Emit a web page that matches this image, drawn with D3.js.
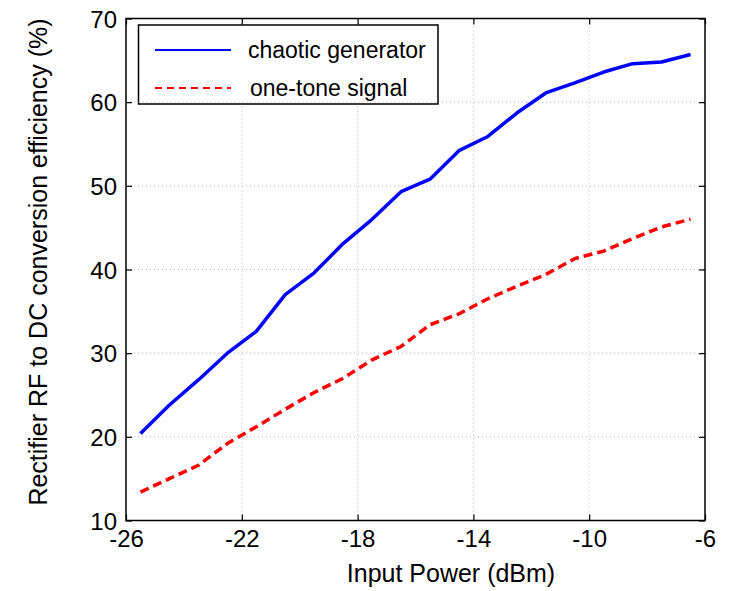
<!DOCTYPE html>
<html>
<head>
<meta charset="utf-8">
<script src="https://cdn.jsdelivr.net/npm/d3@7"></script>
<style>
  body { margin: 0; background: #fff; }
  text { font-family: "Liberation Sans", Arial, sans-serif; fill: #000; }
</style>
</head>
<body>
<svg id="chart" width="730" height="591"></svg>
<script>
// data
var inputPower = [-25.5, -24.5, -23.5, -22.5, -21.5, -20.5, -19.5, -18.5, -17.5, -16.5,
                  -15.5, -14.5, -13.5, -12.5, -11.5, -10.5, -9.5, -8.5, -7.5, -6.5];
var chaotic = [20.4, 23.8, 26.8, 30.0, 32.6, 37.0, 39.6, 43.1, 46.0, 49.3,
               50.8, 54.2, 55.9, 58.7, 61.1, 62.3, 63.6, 64.6, 64.8, 65.7];
var oneTone = [13.4, 15.0, 16.6, 19.2, 21.2, 23.3, 25.3, 27.0, 29.2, 30.8,
               33.4, 34.7, 36.5, 38.0, 39.4, 41.3, 42.2, 43.7, 45.1, 46.0];
var xTicks = [-26, -22, -18, -14, -10, -6];
var yTicks = [10, 20, 30, 40, 50, 60, 70];
var seriesNames = ["chaotic generator", "one-tone signal"];

var svg = d3.select("#chart");
var plotLeft = 126, plotRight = 705, plotTop = 18.5, plotBottom = 520.5;

var x = d3.scaleLinear().domain([-26, -6]).range([plotLeft, plotRight]);
var y = d3.scaleLinear().domain([10, 70]).range([plotBottom, plotTop]);

var makeData = function(vals){
  return inputPower.map(function(p, i){ return {x: p, y: vals[i]}; });
};

var line = d3.line()
  .x(function(d){ return x(d.x); })
  .y(function(d){ return y(d.y); });

var plainNum = function(d){ return String(d); };

// vertical grid
svg.append("g").selectAll("line")
  .data(xTicks.slice(1, -1)).enter().append("line")
  .attr("x1", function(d){ return x(d); }).attr("x2", function(d){ return x(d); })
  .attr("y1", plotTop).attr("y2", plotBottom)
  .attr("stroke", "#b4b4b4").attr("stroke-width", 1).attr("stroke-dasharray", "1,3");

// horizontal grid
svg.append("g").selectAll("line")
  .data(yTicks.slice(1, -1)).enter().append("line")
  .attr("x1", plotLeft).attr("x2", plotRight)
  .attr("y1", function(d){ return y(d); }).attr("y2", function(d){ return y(d); })
  .attr("stroke", "#b4b4b4").attr("stroke-width", 1).attr("stroke-dasharray", "1,3");

// axes with inward ticks on all sides
var axisStyle = function(g){
  g.select(".domain").remove();
  g.selectAll(".tick line").attr("stroke", "#000").attr("stroke-width", 1.2);
  g.selectAll(".tick text").style("font-size", "24px").attr("fill", "#000");
};

svg.append("g").attr("transform", "translate(0," + plotBottom + ")")
  .call(d3.axisBottom(x).tickValues(xTicks).tickSize(-6).tickPadding(10).tickFormat(plainNum))
  .call(axisStyle)
  .selectAll(".tick text").attr("y", 8).attr("dy", "0.78em");

svg.append("g").attr("transform", "translate(0," + plotTop + ")")
  .call(d3.axisTop(x).tickValues(xTicks).tickSize(-6).tickFormat(""))
  .call(axisStyle);

svg.append("g").attr("transform", "translate(" + plotLeft + ",0)")
  .call(d3.axisLeft(y).tickValues(yTicks).tickSize(-6).tickFormat(plainNum))
  .call(axisStyle)
  .selectAll(".tick text").attr("x", -9).attr("dy", "0.36em");

svg.append("g").attr("transform", "translate(" + plotRight + ",0)")
  .call(d3.axisRight(y).tickValues(yTicks).tickSize(-6).tickFormat(""))
  .call(axisStyle);

// box
svg.append("rect")
  .attr("x", plotLeft).attr("y", plotTop)
  .attr("width", plotRight - plotLeft).attr("height", plotBottom - plotTop)
  .attr("fill", "none").attr("stroke", "#000").attr("stroke-width", 1.5);

// series
svg.append("path")
  .attr("d", line(makeData(chaotic)))
  .attr("fill", "none").attr("stroke", "#0000ff").attr("stroke-width", 3.5)
  .attr("stroke-linejoin", "round");

svg.append("path")
  .attr("d", line(makeData(oneTone)))
  .attr("fill", "none").attr("stroke", "#ff0000").attr("stroke-width", 3.5)
  .attr("stroke-dasharray", "9,5");

// legend
var legend = svg.append("g");
legend.append("rect")
  .attr("x", 138.5).attr("y", 25).attr("width", 299.5).attr("height", 79)
  .attr("fill", "#fff").attr("stroke", "#000").attr("stroke-width", 1.5);

var legendColors = ["#0000ff", "#ff0000"];
var legendDash = [null, "7,5"];
var legendY = [50, 88];
seriesNames.forEach(function(name, i){
  legend.append("line")
    .attr("x1", 155).attr("x2", 231)
    .attr("y1", legendY[i]).attr("y2", legendY[i])
    .attr("stroke", legendColors[i]).attr("stroke-width", 2)
    .attr("stroke-dasharray", legendDash[i]);
  legend.append("text")
    .attr("x", i === 0 ? 248 : 250).attr("y", legendY[i] + 8)
    .style("font-size", "23px")
    .text(name);
});

// the 60 gridline shows over the legend box
svg.append("line")
  .attr("x1", 138.5).attr("x2", 438).attr("y1", y(60)).attr("y2", y(60))
  .attr("stroke", "#b4b4b4").attr("stroke-width", 1).attr("stroke-dasharray", "1,3");

// axis titles
svg.append("text")
  .attr("x", 451).attr("y", 582)
  .attr("text-anchor", "middle")
  .style("font-size", "25px")
  .text("Input Power (dBm)");

svg.append("text")
  .attr("transform", "translate(47,262) rotate(-90)")
  .attr("text-anchor", "middle")
  .style("font-size", "25px")
  .text("Rectifier RF to DC conversion efficiency (%)");
</script>
</body>
</html>
